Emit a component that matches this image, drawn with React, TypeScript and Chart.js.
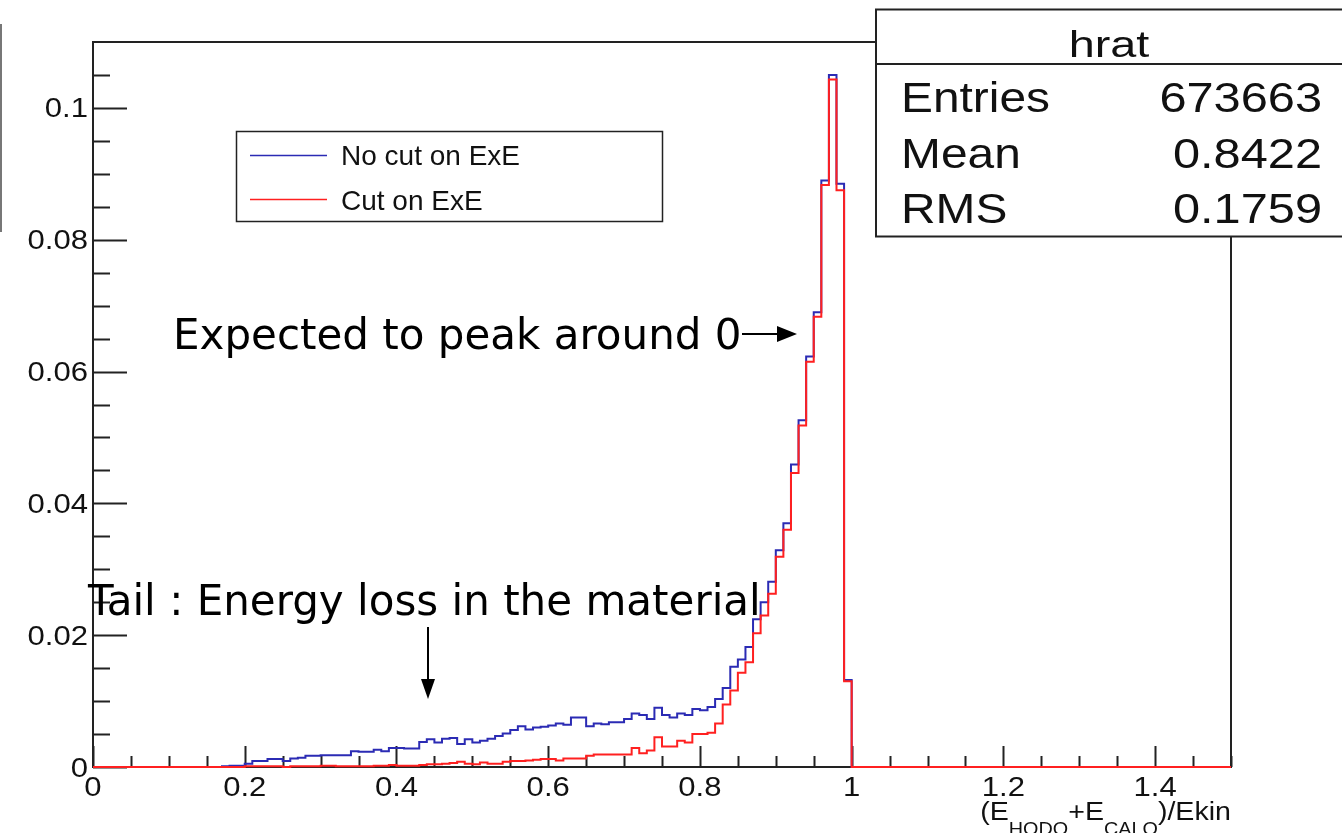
import React, { useEffect, useRef } from "react";
import { Chart, registerables } from "chart.js";

Chart.register(...registerables);

// ---- data ----
const BIN_WIDTH = 0.01;
const FIRST_BIN_LOW = 0.17; // first non-empty bin low edge; bins below/above are empty
const X_RANGE = [0, 1.5];
const Y_RANGE = [0, 0.11];

// "No cut on ExE" (blue), bins 0.17 .. 0.99
const noCutValues = [
  0.0001, 0.0002, 0.0002, 0.0005, 0.0009, 0.0009, 0.0012, 0.0012, 0.0009, 0.0013,
  0.0014, 0.0017, 0.0017, 0.0018, 0.0018, 0.0018, 0.0018, 0.0024, 0.0023, 0.0023,
  0.0026, 0.0024, 0.0029, 0.0029, 0.0028, 0.0028, 0.0038, 0.0042, 0.0037, 0.0043,
  0.0044, 0.0035, 0.0042, 0.0037, 0.0040, 0.0043, 0.0047, 0.0051, 0.0056, 0.0062,
  0.0057, 0.0060, 0.0061, 0.0063, 0.0066, 0.0064, 0.0075, 0.0075, 0.0062, 0.0066,
  0.0065, 0.0068, 0.0068, 0.0073, 0.0081, 0.0079, 0.0073, 0.0090, 0.0079, 0.0075,
  0.0081, 0.0079, 0.0088, 0.0086, 0.0091, 0.0103, 0.0120, 0.0152, 0.0163, 0.0182,
  0.0224, 0.0250, 0.0281, 0.0329, 0.0370, 0.0459, 0.0526, 0.0623, 0.0690, 0.0890,
  0.1050, 0.0885, 0.0132,
];

// "Cut on ExE" (red), bins 0.17 .. 0.99
const cutValues = [
  0.0000, 0.0000, 0.0000, 0.0001, 0.0001, 0.0001, 0.0001, 0.0001, 0.0000, 0.0001,
  0.0001, 0.0001, 0.0001, 0.0002, 0.0002, 0.0001, 0.0001, 0.0001, 0.0001, 0.0001,
  0.0002, 0.0002, 0.0003, 0.0002, 0.0002, 0.0002, 0.0003, 0.0004, 0.0004, 0.0005,
  0.0006, 0.0008, 0.0005, 0.0004, 0.0007, 0.0005, 0.0005, 0.0008, 0.0009, 0.0009,
  0.0010, 0.0011, 0.0012, 0.0012, 0.0010, 0.0013, 0.0013, 0.0013, 0.0017, 0.0019,
  0.0019, 0.0019, 0.0019, 0.0019, 0.0029, 0.0021, 0.0025, 0.0045, 0.0031, 0.0031,
  0.0040, 0.0037, 0.0050, 0.0050, 0.0052, 0.0066, 0.0095, 0.0116, 0.0143, 0.0159,
  0.0203, 0.0230, 0.0263, 0.0319, 0.0360, 0.0446, 0.0518, 0.0615, 0.0683, 0.0883,
  0.1043, 0.0875, 0.0130,
];

const xTickValues = [0, 0.2, 0.4, 0.6, 0.8, 1.0, 1.2, 1.4];
const xTickLabels = ["0", "0.2", "0.4", "0.6", "0.8", "1", "1.2", "1.4"];
const yTickValues = [0, 0.02, 0.04, 0.06, 0.08, 0.1];
const yTickLabels = ["0", "0.02", "0.04", "0.06", "0.08", "0.1"];

const seriesNames = ["No cut on ExE", "Cut on ExE"];
const statsTitle = "hrat";
const statsLabels = ["Entries", "Mean", "RMS"];
const statsValues = ["673663", "0.8422", "0.1759"];
const annotationPeak = "Expected to peak around 0";
const annotationTail = "Tail : Energy loss in the material";

const BLUE = "#2b2bb4";
const RED = "#ff2020";
const INK = "#222222";

function histPoints(values: number[]) {
  const pts: { x: number; y: number }[] = [{ x: X_RANGE[0], y: 0 }];
  values.forEach((v, i) => {
    pts.push({ x: +(FIRST_BIN_LOW + i * BIN_WIDTH).toFixed(4), y: v });
  });
  const end = +(FIRST_BIN_LOW + values.length * BIN_WIDTH).toFixed(4);
  pts.push({ x: end, y: 0 });
  pts.push({ x: X_RANGE[1], y: 0 });
  return pts;
}

function stretchText(
  ctx: CanvasRenderingContext2D,
  s: string,
  x: number,
  y: number,
  font: string,
  sx: number,
  align: "left" | "right" | "center"
) {
  ctx.save();
  ctx.font = font;
  ctx.textAlign = "left";
  ctx.textBaseline = "alphabetic";
  const w = ctx.measureText(s).width * sx;
  const x0 = align === "right" ? x - w : align === "center" ? x - w / 2 : x;
  ctx.translate(x0, y);
  ctx.scale(sx, 1);
  ctx.fillText(s, 0, 0);
  ctx.restore();
  return w;
}

const HELV = '"Liberation Sans", Arial, sans-serif';
const DEJA = '"DejaVu Sans", sans-serif';

const rootStylePlugin = {
  id: "rootStyle",
  beforeDatasetsDraw(chart: any) {
    const ctx: CanvasRenderingContext2D = chart.ctx;
    const xs = chart.scales.x;
    const ys = chart.scales.y;
    const a = chart.chartArea;
    ctx.save();
    // frame
    ctx.strokeStyle = INK;
    ctx.lineWidth = 2;
    ctx.strokeRect(a.left, a.top, a.right - a.left, a.bottom - a.top);
    // x ticks
    ctx.beginPath();
    for (let k = 0; k <= 30; k++) {
      const v = k * 0.05;
      const px = Math.round(xs.getPixelForValue(v)) + 0.5;
      const len = k % 4 === 0 ? 21 : 11;
      ctx.moveTo(px, a.bottom);
      ctx.lineTo(px, a.bottom - len);
    }
    // y ticks
    for (let k = 0; k <= 21; k++) {
      const v = k * 0.005;
      const py = Math.round(ys.getPixelForValue(v)) + 0.5;
      const len = k % 4 === 0 ? 34 : 17;
      ctx.moveTo(a.left, py);
      ctx.lineTo(a.left + len, py);
    }
    ctx.stroke();
    // labels
    ctx.fillStyle = "#111";
    xTickValues.forEach((v, i) => {
      stretchText(ctx, xTickLabels[i], xs.getPixelForValue(v), a.bottom + 29, `27px ${HELV}`, 1.15, "center");
    });
    yTickValues.forEach((v, i) => {
      stretchText(ctx, yTickLabels[i], a.left - 5, ys.getPixelForValue(v) + 9.5, `27px ${HELV}`, 1.15, "right");
    });
    // x axis title: (E_HODO+E_CALO)/Ekin, right aligned at frame right
    const mainF = `26px ${HELV}`;
    const subF = `18px ${HELV}`;
    const sx = 1.1;
    const parts: [string, string, number][] = [
      ["(E", mainF, 0],
      ["HODO", subF, 15],
      ["+E", mainF, 0],
      ["CALO", subF, 15],
      [")/Ekin", mainF, 0],
    ];
    let total = 0;
    parts.forEach(([s, f]) => {
      ctx.font = f;
      total += ctx.measureText(s).width * sx;
    });
    let cx = a.right - total;
    const base = 820;
    parts.forEach(([s, f, dy]) => {
      cx += stretchText(ctx, s, cx, base + dy, f, sx, "left");
    });
    ctx.restore();
  },
  afterDatasetsDraw(chart: any) {
    const ctx: CanvasRenderingContext2D = chart.ctx;
    ctx.save();
    // stray slide line on the far left
    ctx.strokeStyle = "#777";
    ctx.lineWidth = 2;
    ctx.beginPath();
    ctx.moveTo(1, 24);
    ctx.lineTo(1, 232);
    ctx.stroke();

    // legend
    ctx.fillStyle = "#fff";
    ctx.fillRect(236, 131, 426, 90);
    ctx.strokeStyle = INK;
    ctx.lineWidth = 1.5;
    ctx.strokeRect(236.5, 131.5, 426, 90);
    ctx.lineWidth = 1.5;
    ctx.strokeStyle = BLUE;
    ctx.beginPath();
    ctx.moveTo(250, 155.5);
    ctx.lineTo(327, 155.5);
    ctx.stroke();
    ctx.strokeStyle = RED;
    ctx.beginPath();
    ctx.moveTo(250, 199.5);
    ctx.lineTo(327, 199.5);
    ctx.stroke();
    ctx.fillStyle = "#111";
    stretchText(ctx, seriesNames[0], 341, 165, `28px ${HELV}`, 1.0, "left");
    stretchText(ctx, seriesNames[1], 341, 210, `28px ${HELV}`, 1.0, "left");

    // stats box
    ctx.fillStyle = "#fff";
    ctx.fillRect(876, 9, 480, 228);
    ctx.strokeStyle = INK;
    ctx.lineWidth = 2;
    ctx.strokeRect(876, 9.5, 480, 227);
    ctx.beginPath();
    ctx.moveTo(876, 64);
    ctx.lineTo(1350, 64);
    ctx.stroke();
    ctx.fillStyle = "#111";
    stretchText(ctx, statsTitle, 1109, 57, `36px ${HELV}`, 1.3, "center");
    const rowsY = [112, 168, 223];
    statsLabels.forEach((lab, i) => {
      stretchText(ctx, lab, 901, rowsY[i], `42px ${HELV}`, 1.14, "left");
      stretchText(ctx, statsValues[i], 1322, rowsY[i], `42px ${HELV}`, 1.16, "right");
    });

    // annotations
    ctx.fillStyle = "#000";
    stretchText(ctx, annotationPeak, 173, 349, `42px ${DEJA}`, 1.0, "left");
    stretchText(ctx, annotationTail, 88, 615, `42px ${DEJA}`, 1.0, "left");

    // arrows
    ctx.strokeStyle = "#000";
    ctx.fillStyle = "#000";
    ctx.lineWidth = 2;
    ctx.beginPath();
    ctx.moveTo(742, 334);
    ctx.lineTo(780, 334);
    ctx.stroke();
    ctx.beginPath();
    ctx.moveTo(797, 334);
    ctx.lineTo(777, 326);
    ctx.lineTo(777, 342);
    ctx.closePath();
    ctx.fill();

    ctx.beginPath();
    ctx.moveTo(428, 627);
    ctx.lineTo(428, 682);
    ctx.stroke();
    ctx.beginPath();
    ctx.moveTo(428, 699);
    ctx.lineTo(421, 679);
    ctx.lineTo(435, 679);
    ctx.closePath();
    ctx.fill();
    ctx.restore();
  },
};

export default function App() {
  const ref = useRef<HTMLCanvasElement | null>(null);
  useEffect(() => {
    if (!ref.current) return;
    const chart = new Chart(ref.current, {
      type: "line",
      data: {
        datasets: [
          {
            label: seriesNames[0],
            data: histPoints(noCutValues),
            borderColor: BLUE,
            borderWidth: 2,
            pointRadius: 0,
            stepped: "before",
            fill: false,
            order: 2,
            clip: false,
          } as any,
          {
            label: seriesNames[1],
            data: histPoints(cutValues),
            borderColor: RED,
            borderWidth: 2,
            pointRadius: 0,
            stepped: "before",
            fill: false,
            order: 1,
            clip: false,
          } as any,
        ],
      },
      options: {
        animation: false,
        responsive: false,
        parsing: true,
        layout: { padding: { left: 93, top: 42, right: 111, bottom: 66 } },
        plugins: { legend: { display: false }, tooltip: { enabled: false }, title: { display: false } },
        scales: {
          x: { type: "linear", min: X_RANGE[0], max: X_RANGE[1], display: false },
          y: { type: "linear", min: Y_RANGE[0], max: Y_RANGE[1], display: false },
        },
      },
      plugins: [rootStylePlugin],
    });
    return () => chart.destroy();
  }, []);
  return (
    <div style={{ position: "fixed", left: 0, top: 0, width: 1342, height: 833, background: "#fff" }}>
      <canvas ref={ref} width={1342} height={833} style={{ display: "block" }} />
    </div>
  );
}
